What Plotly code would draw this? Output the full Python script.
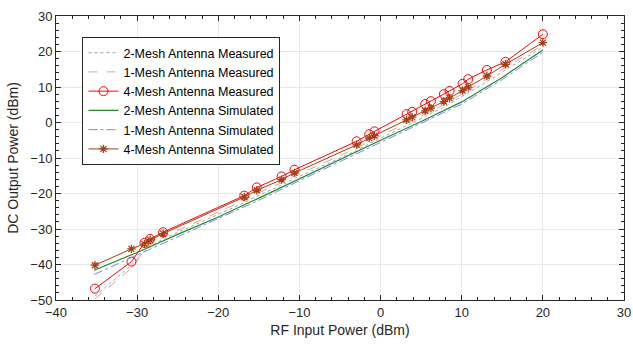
import plotly.graph_objects as go

# Measurement input powers (dBm)
x_meas = [-35.2, -30.7, -29.1, -28.4, -26.8, -16.8, -15.25, -12.2, -10.6, -2.95, -1.4, -0.75,
          3.2, 3.9, 5.5, 6.2, 7.8, 8.5, 10.1, 10.8, 13.1, 15.4, 20.0]

mesh4_meas = [-46.8, -39.2, -33.9, -32.8, -30.9, -20.6, -18.3, -15.2, -13.3, -5.3, -3.3, -2.5,
              2.35, 3.0, 5.2, 6.0, 8.0, 8.9, 10.9, 12.2, 14.8, 17.1, 24.85]
mesh4_sim = [-40.2, -35.6, -34.2, -33.1, -31.3, -21.0, -19.1, -16.1, -14.2, -6.3, -4.4, -3.7,
             0.75, 1.5, 3.3, 4.05, 5.9, 6.85, 9.0, 9.95, 13.1, 16.4, 22.5]
mesh1_meas = [-49.7, -41.0, -36.0, -34.5, -32.3, -21.9, -20.0, -17.0, -15.1, -7.2, -5.3, -4.6,
              -0.15, 0.6, 2.4, 3.15, 5.0, 5.95, 8.1, 9.05, 12.2, 15.5, 21.8]
mesh2_meas = [-48.9, -40.2, -36.2, -35.0, -32.8, -22.6, -20.7, -17.7, -15.8, -7.9, -6.0, -5.3,
              -0.85, -0.1, 1.7, 2.45, 4.3, 5.25, 7.4, 8.35, 11.5, 14.8, 21.2]

x_sim = [-35.3, -30, -25, -20, -15, -10, -5, 0, 5, 10, 15, 20]
mesh2_sim = [-41.6, -36.6, -31.5, -26.6, -21.3, -15.8, -10.4, -5.0, 0.3, 5.8, 12.7, 20.4]
mesh1_sim = [-42.8, -37.4, -32.2, -27.2, -21.9, -16.4, -11.0, -5.6, -0.3, 5.2, 12.1, 19.8]

x_ticks = [-40, -30, -20, -10, 0, 10, 20, 30]
y_ticks = [-50, -40, -30, -20, -10, 0, 10, 20, 30]

FONT = "Liberation Sans, Arial, sans-serif"

fig = go.Figure()
fig.add_trace(go.Scatter(x=x_meas, y=mesh2_meas, mode="lines", name="2-Mesh Antenna Measured",
                         line=dict(color="rgb(160,160,200)", width=1, dash="dot")))
fig.add_trace(go.Scatter(x=x_meas, y=mesh1_meas, mode="lines", name="1-Mesh Antenna Measured",
                         line=dict(color="rgb(215,165,145)", width=1, dash="dash")))
fig.add_trace(go.Scatter(x=x_meas, y=mesh4_meas, mode="lines+markers", name="4-Mesh Antenna Measured",
                         line=dict(color="rgb(255,0,0)", width=1),
                         marker=dict(symbol="circle-open", size=9, color="rgb(255,0,0)",
                                     line=dict(width=1))))
fig.add_trace(go.Scatter(x=x_sim, y=mesh2_sim, mode="lines", name="2-Mesh Antenna Simulated",
                         line=dict(color="rgb(34,139,34)", width=1.2)))
fig.add_trace(go.Scatter(x=x_sim, y=mesh1_sim, mode="lines", name="1-Mesh Antenna Simulated",
                         line=dict(color="rgb(130,130,255)", width=1, dash="dashdot")))
fig.add_trace(go.Scatter(x=x_meas, y=mesh4_sim, mode="lines+markers", name="4-Mesh Antenna Simulated",
                         line=dict(color="rgb(160,64,20)", width=1),
                         marker=dict(symbol="asterisk-open", size=7, color="rgb(160,64,20)",
                                     line=dict(width=1.3, color="rgb(160,64,20)"))))

axis_common = dict(
    showline=True, linecolor="#262626", linewidth=1, mirror="allticks",
    ticks="inside", ticklen=5, tickcolor="#262626",
    showgrid=True, gridcolor="#e8e8e8", gridwidth=1, zeroline=False,
    automargin=False,
    tickfont=dict(family=FONT, size=13, color="#262626"),
    minor=dict(dtick=2, ticks="inside", ticklen=3, tickcolor="#262626", showgrid=False),
)

fig.update_layout(
    width=633, height=348,
    margin=dict(l=55.5, r=9, t=16, b=47.5),
    paper_bgcolor="white", plot_bgcolor="white",
    font=dict(family=FONT, color="#262626"),
    showlegend=True,
    legend=dict(x=0.0466, y=0.926, xanchor="left", yanchor="top",
                bgcolor="white", bordercolor="#262626", borderwidth=1,
                font=dict(family=FONT, size=12.5, color="#000000"), itemwidth=30,
                tracegroupgap=0),
    xaxis=dict(range=[-40, 30], tickvals=x_ticks,
               title=dict(text="RF Input Power (dBm)", font=dict(family=FONT, size=14), standoff=6),
               **axis_common),
    yaxis=dict(range=[-50, 30], tickvals=y_ticks,
               title=dict(text="DC Output Power (dBm)", font=dict(family=FONT, size=14), standoff=8),
               **axis_common),
)

fig.write_html("out.html", config={"displayModeBar": False},
               post_script="document.body.style.margin='0';")
